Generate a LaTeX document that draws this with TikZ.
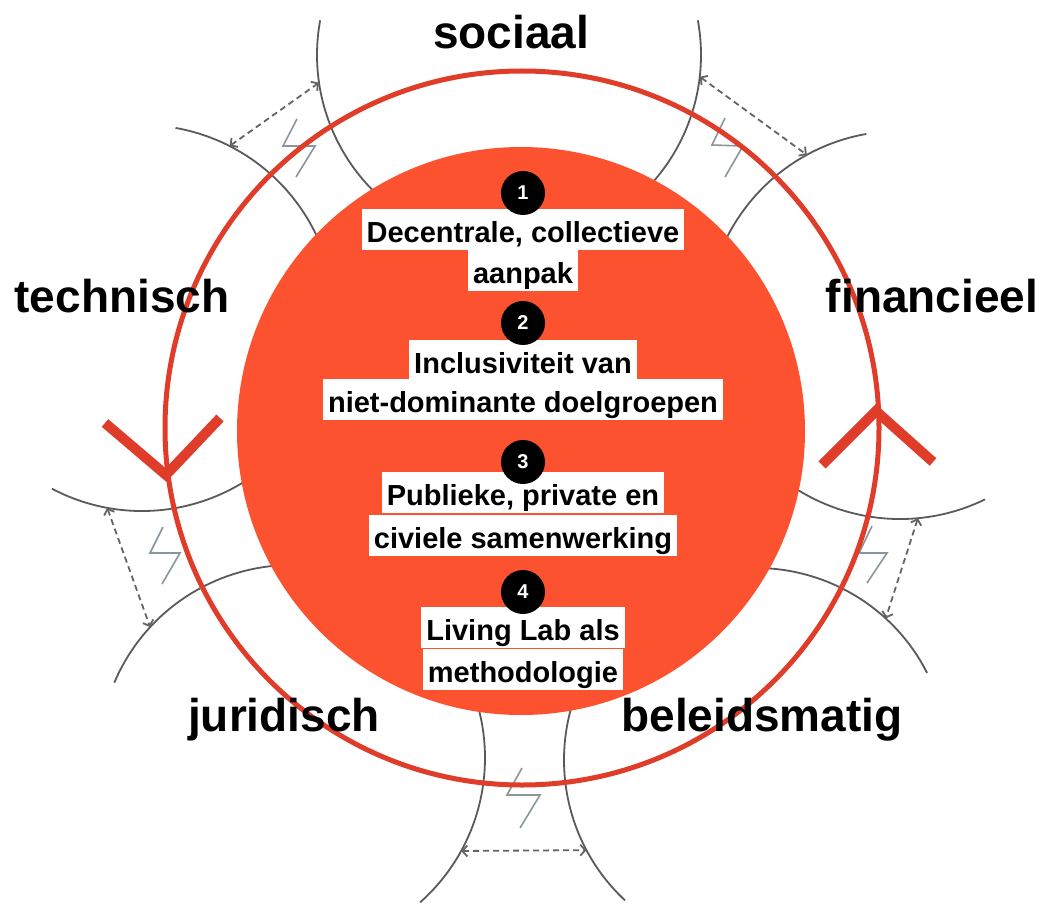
\documentclass[tikz,border=0pt]{standalone}
\usepackage{fontspec}
\setmainfont{Liberation Sans}
\usetikzlibrary{arrows.meta,calc}
\definecolor{ringred}{RGB}{224,60,42}
\definecolor{corered}{RGB}{252,82,48}
\definecolor{arcgray}{RGB}{90,90,90}
\definecolor{boltgray}{RGB}{138,150,156}
\definecolor{dashgray}{RGB}{100,100,100}
\begin{document}
\begin{tikzpicture}[x=1pt,y=-1pt,
  domainarc/.style={draw=arcgray,line width=1.8pt},
  boltline/.style={draw=boltgray,line width=1.6pt},
  relation/.style={draw=dashgray,line width=1.8pt,dash pattern=on 6pt off 4pt,{Straight Barb[length=5pt,width=11pt]}-{Straight Barb[length=5pt,width=11pt]}},
  ymark/.style={draw=ringred,line width=10pt,line join=miter},
  domainlabel/.style={font=\bfseries\fontsize{46}{50}\selectfont,anchor=base,inner sep=0pt,text=black},
  txtline/.style={fill=white,font=\bfseries\fontsize{29}{34}\selectfont,anchor=base,inner xsep=5pt,inner ysep=6pt,text height=27pt,text depth=2pt},
  badge/.style={circle,fill=black,text=white,minimum size=44pt,inner sep=0pt,font=\bfseries\fontsize{20}{20}\selectfont}
]
\useasboundingbox (0,0) rectangle (1046,904);
\fill[white] (0,0) rectangle (1046,904);

% centres of the five domain circles
\coordinate (csoc) at (509,55);
\coordinate (ctec) at (142,318);
\coordinate (cfin) at (900,325);
\coordinate (cjur) at (292,758);
\coordinate (cbel) at (756,760);

% domain arcs
\draw[domainarc] (csoc) ++(190.4:192) arc[start angle=190.4,end angle=128,radius=192];
\draw[domainarc] (csoc) ++(-10.4:192) arc[start angle=-10.4,end angle=52,radius=192];
\draw[domainarc] (ctec) ++(-80:193) arc[start angle=-80,end angle=-20,radius=193];
\draw[domainarc] (ctec) ++(117.8:193) arc[start angle=117.8,end angle=30,radius=193];
\draw[domainarc] (cfin) ++(260:194) arc[start angle=260,end angle=200,radius=194];
\draw[domainarc] (cfin) ++(64:194) arc[start angle=64,end angle=150,radius=194];
\draw[domainarc] (cjur) ++(203:193) arc[start angle=203,end angle=290,radius=193];
\draw[domainarc] (cjur) ++(48.4:193) arc[start angle=48.4,end angle=-40,radius=193];
\draw[domainarc] (cbel) ++(133:192) arc[start angle=133,end angle=220,radius=192];
\draw[domainarc] (cbel) ++(-27:192) arc[start angle=-27,end angle=-110,radius=192];

% end points of the relations
\coordinate (d1a) at ($(ctec)+(-63:193)$);
\coordinate (d1b) at ($(csoc)+(171.7:192)$);
\coordinate (d2a) at ($(csoc)+(6.5:192)$);
\coordinate (d2b) at ($(cfin)+(241.3:194)$);
\coordinate (d3a) at ($(cfin)+(84.7:194)$);
\coordinate (d3b) at ($(cbel)+(-47.5:192)$);
\coordinate (d4a) at ($(ctec)+(100.4:193)$);
\coordinate (d4b) at ($(cjur)+(222.7:193)$);
\coordinate (d5a) at ($(cjur)+(28.8:193)$);
\coordinate (d5b) at ($(cbel)+(152:192)$);
\draw[relation] (d1a) -- (d1b);
\draw[relation] (d2a) -- (d2b);
\draw[relation] (d3a) -- (d3b);
\draw[relation] (d4a) -- (d4b);
\draw[relation] (d5a) -- (d5b);

% tension symbols
\draw[boltline] (297,119) -- ++(-14,27) -- ++(32,0) -- ++(-19,31);
\draw[boltline] (725,118) -- ++(-13,27) -- ++(31,1) -- ++(-18,31);
\draw[boltline] (872,526) -- ++(-13,27) -- ++(28,0) -- ++(-20,30);
\draw[boltline] (163,527) -- ++(-13,26) -- ++(30,0) -- ++(-18,31);
\draw[boltline] (522,768) -- ++(-15,27) -- ++(33,0) -- ++(-20,33);

% outer ring
\node[circle,draw=ringred,line width=5pt,minimum size=714pt,inner sep=0pt] (ring) at (522,428) {};

% direction marks
\draw[ymark] (105,423) -- (166,475) -- (220,418);
\draw[ymark] (822,465) -- (876,411) -- (933,462);

% core
\node[circle,fill=corered,minimum size=568pt,inner sep=0pt] (core) at (521,431) {};

% text lines
\node[txtline] (t1a) at (523,242) {Decentrale, collectieve};
\node[txtline] (t1b) at (523,283) {aanpak};
\node[txtline] (t2a) at (523,373) {Inclusiviteit van};
\node[txtline] (t2b) at (523,412) {niet-dominante doelgroepen};
\node[txtline] (t3a) at (523,505) {Publieke, private en};
\node[txtline] (t3b) at (523,548) {civiele samenwerking};
\node[txtline] (t4a) at (523,640) {Living Lab als};
\node[txtline] (t4b) at (523,682) {methodologie};

% badges
\node[badge] (b1) at (523,193) {1};
\node[badge] (b2) at (523,323) {2};
\node[badge] (b3) at (523,462) {3};
\node[badge] (b4) at (523,592) {4};

% domain labels
\node[domainlabel] (soc) at (511,49) {sociaal};
\node[domainlabel] (tec) at (122,312) {technisch};
\node[domainlabel] (fin) at (932,312) {financieel};
\node[domainlabel] (jur) at (284,731) {juridisch};
\node[domainlabel] (bel) at (762,731) {beleidsmatig};
\end{tikzpicture}
\end{document}
